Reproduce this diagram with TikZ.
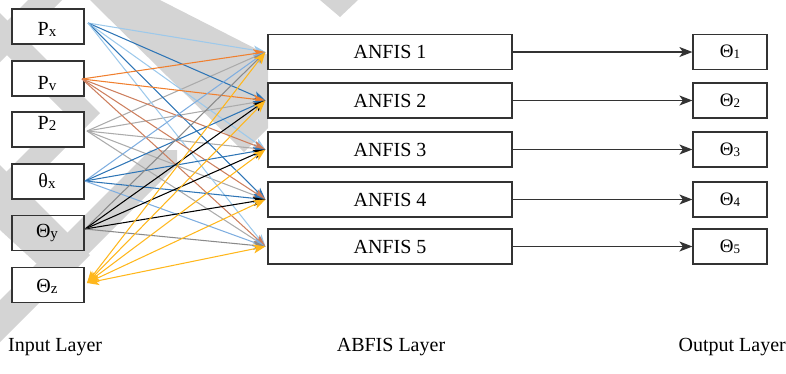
\documentclass[tikz,border=0pt]{standalone}
\usepackage{fontspec}
\setmainfont{Liberation Serif}
\usetikzlibrary{arrows.meta}

\definecolor{lblue}{HTML}{9DC9EB}
\definecolor{dblue}{HTML}{2E75B6}
\definecolor{mblue}{HTML}{7FAEE0}
\definecolor{orng}{HTML}{F07F2E}
\definecolor{brwn}{HTML}{CD7F5E}
\definecolor{lgray}{HTML}{ABABAB}
\definecolor{dgray}{HTML}{8A8A8A}
\definecolor{gold}{HTML}{FFB71C}
\definecolor{wmark}{HTML}{D4D4D4}
\definecolor{boxline}{HTML}{333333}

% small lowered index letter/digit
\newcommand\lowix[2][15]{\raisebox{-1.2pt}{\fontsize{#1}{#1}\selectfont #2}}

\begin{document}
\begin{tikzpicture}[x=1pt,y=-1pt,
  fanhead/.tip={Stealth[length=12pt,width=9pt,inset=3pt]},
  outhead/.tip={Stealth[length=13pt,width=10pt,inset=3.5pt]},
  box/.style={draw=boxline, line width=1.2pt, inner sep=0pt},
  inbox/.style={box, fill=white, minimum width=72pt, minimum height=35pt},
  anbox/.style={box, fill=white, minimum width=244pt, minimum height=35pt,
                font=\fontsize{20}{20}\selectfont},
  outbox/.style={box, fill=white, minimum width=74pt, minimum height=35pt,
                 font=\fontsize{19}{19}\selectfont},
  lbl/.style={inner sep=0pt, anchor=base, font=\fontsize{20}{20}\selectfont},
  lk/.style={line width=1.05pt, -fanhead},
  lkk/.style={line width=1.05pt, fanhead-fanhead},
  outarrow/.style={line width=1.2pt, draw=boxline, -outhead}
]
\useasboundingbox (0,0) rectangle (786,373);

% background chevron pattern
\begin{scope}
\clip (0,0) rectangle (786,373);
\fill[wmark] (28,0) -- (62,0) -- (0,62) -- (0,28) -- cycle;
\fill[wmark] (90,0) -- (160,0) -- (268,55) -- (268,128) -- (244,152) -- cycle;
\fill[wmark] (0,13) -- (100,113) -- (0,213) -- (0,178) -- (65,113) -- (0,48) -- cycle;
\fill[wmark] (150,150) -- (177,150) -- (177,165) -- (0,342) -- (0,300) -- cycle;
\fill[wmark] (0,165) -- (90,255) -- (60,285) -- (0,230) -- cycle;
\fill[wmark] (320,0) -- (358,0) -- (340,17) -- cycle;
\end{scope}

% input layer
\node[inbox] (px) at (48,26.5) {};
\node[inbox] (pv) at (48,78.5) {};
\node[inbox] (p2) at (48,129.5) {};
\node[inbox] (tx) at (48,181.5) {};
\node[box, minimum width=72pt, minimum height=35pt] (ty) at (48,233) {};
\node[inbox] (tz) at (48,285) {};

\node[lbl] (px-t) at (47,35) {P\lowix{x}};
\node[lbl] (pv-t) at (47,89) {P\lowix{v}};
\node[lbl] (p2-t) at (47,129) {P\lowix{2}};
\node[lbl] (tx-t) at (47,187) {θ\lowix{x}};
\node[lbl] (ty-t) at (47,237) {Θ\lowix{y}};
\node[lbl] (tz-t) at (47,292) {Θ\lowix{z}};

% ANFIS layer
\node[anbox] (a1) at (390,52) {ANFIS 1};
\node[anbox] (a2) at (390,100.5) {ANFIS 2};
\node[anbox] (a3) at (390,149.5) {ANFIS 3};
\node[anbox] (a4) at (390,199.5) {ANFIS 4};
\node[anbox] (a5) at (390,246.5) {ANFIS 5};

% output layer
\node[outbox] (o1) at (730,52) {Θ\lowix[13]{1}};
\node[outbox] (o2) at (730,100.5) {Θ\lowix[13]{2}};
\node[outbox] (o3) at (730,149.5) {Θ\lowix[13]{3}};
\node[outbox] (o4) at (730,199.5) {Θ\lowix[13]{4}};
\node[outbox] (o5) at (730,246.5) {Θ\lowix[13]{5}};

\foreach \i in {1,...,5} \draw[outarrow] (a\i.east) -- (o\i.west);

% fan-out points of the inputs
\coordinate (px-o) at (88,23);
\coordinate (pv-o) at (82,79);
\coordinate (p2-o) at (87,131);
\coordinate (tx-o) at (85,181);
\coordinate (ty-o) at (85,229);
\coordinate (tz-o) at (87,283);

\foreach \t/\col in {1/lgray,2/lgray,3/lgray,4/lgray,5/lgray}
  \draw[lk,\col] (p2-o) -- ([xshift=-2pt]a\t.west);
\foreach \t/\col in {1/lblue,2/dblue,3/lblue,4/dblue,5/lblue}
  \draw[lk,\col] (px-o) -- ([xshift=-2pt]a\t.west);
\foreach \t/\col in {1/orng,2/orng,3/brwn,4/brwn,5/brwn}
  \draw[lk,\col] (pv-o) -- ([xshift=-2pt]a\t.west);
\foreach \t/\col in {1/mblue,2/dblue,3/dblue,4/dblue,5/mblue}
  \draw[lk,\col] (tx-o) -- ([xshift=-2pt]a\t.west);
\foreach \t/\col in {1/dgray,2/black,3/black,4/black,5/dgray}
  \draw[lk,\col] (ty-o) -- ([xshift=-2pt]a\t.west);
\foreach \t in {1,...,5}
  \draw[lkk,gold] (tz-o) -- ([xshift=-2pt]a\t.west);

% layer captions
\node[lbl, anchor=base west] (cap-in) at (8,351) {Input Layer};
\node[lbl] (cap-an) at (391,351) {ABFIS Layer};
\node[lbl, anchor=base east] (cap-out) at (786,351) {Output Layer};
\end{tikzpicture}
\end{document}
